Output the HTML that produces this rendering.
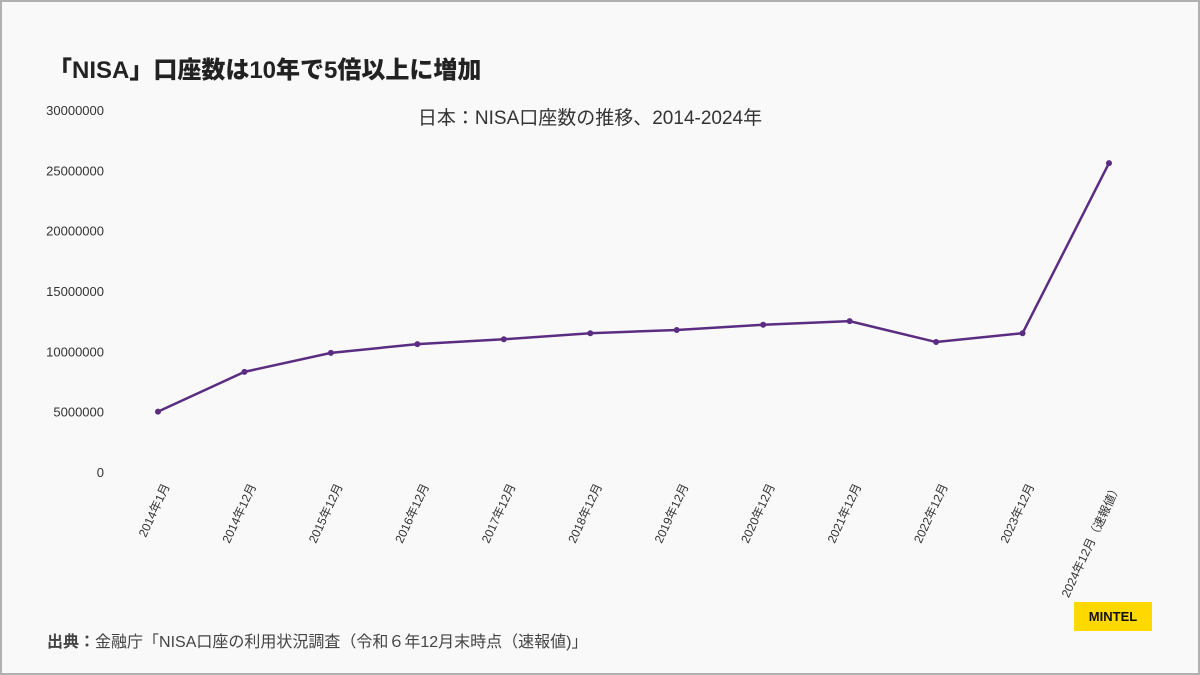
<!DOCTYPE html>
<html><head><meta charset="utf-8"><style>
html,body{margin:0;padding:0}
body{width:1200px;height:675px;background:#f9f9f9;font-family:"Liberation Sans","Noto Sans CJK JP",sans-serif;position:relative;overflow:hidden}
.frame{position:absolute;left:0;top:0;width:1196px;height:671px;border:2px solid #b0b0b0}
.title{position:absolute;left:48px;top:50px;font-size:24px;font-weight:900;color:#222}
.src{position:absolute;left:47px;top:628px;font-size:16px;color:#444}
.logo{position:absolute;left:1074px;top:602px;width:78px;height:29px;background:#ffd800;font-weight:bold;font-size:13px;text-align:center;line-height:29px;color:#111}
</style></head><body>
<div class="frame"></div>
<div class="title">「NISA」口座数は10年で5倍以上に増加</div>
<svg width="1200" height="675" style="position:absolute;left:0;top:0" id="chart">
<text x="590" y="124" text-anchor="middle" font-size="19" fill="#333">日本：NISA口座数の推移、2014-2024年</text>
</svg>
<div class="src"><b>出典：</b>金融庁「NISA口座の利用状況調査（令和６年12月末時点（速報値)」</div>
<div class="logo">MINTEL</div>
<script>
const categories=["2014年1月","2014年12月","2015年12月","2016年12月","2017年12月","2018年12月","2019年12月","2020年12月","2021年12月","2022年12月","2023年12月","2024年12月（速報値）"];
const accounts=[5000000,8300000,9870000,10600000,11000000,11500000,11770000,12200000,12500000,10770000,11500000,25600000];
const yTicks=[0,5000000,10000000,15000000,20000000,25000000,30000000];
const svg=document.getElementById('chart');
const NS='http://www.w3.org/2000/svg';
const x=i=>158+i*(1109-158)/(categories.length-1);
const y=v=>472-v*(472-110)/30000000;
function mk(t,a){const e=document.createElementNS(NS,t);for(const k in a)e.setAttribute(k,a[k]);svg.appendChild(e);return e;}
yTicks.forEach(v=>{const t=mk('text',{x:104,y:y(v)+5,'text-anchor':'end','font-size':13,fill:'#333'});t.textContent=v;

});
categories.forEach((c,i)=>{const ax=x(i)+12,ay=486;const t=mk('text',{x:ax,y:ay,'text-anchor':'end','font-size':12,fill:'#333',transform:`rotate(-65 ${ax} ${ay})`});t.textContent=c;

});
const line=mk('polyline',{points:accounts.map((v,i)=>x(i)+','+y(v)).join(' '),fill:'none',stroke:'#5b2d82','stroke-width':2.5});


accounts.forEach((v,i)=>{const p=mk('circle',{cx:x(i),cy:y(v),r:3,fill:'#5b2d82'});

});
</script>
</body></html>
